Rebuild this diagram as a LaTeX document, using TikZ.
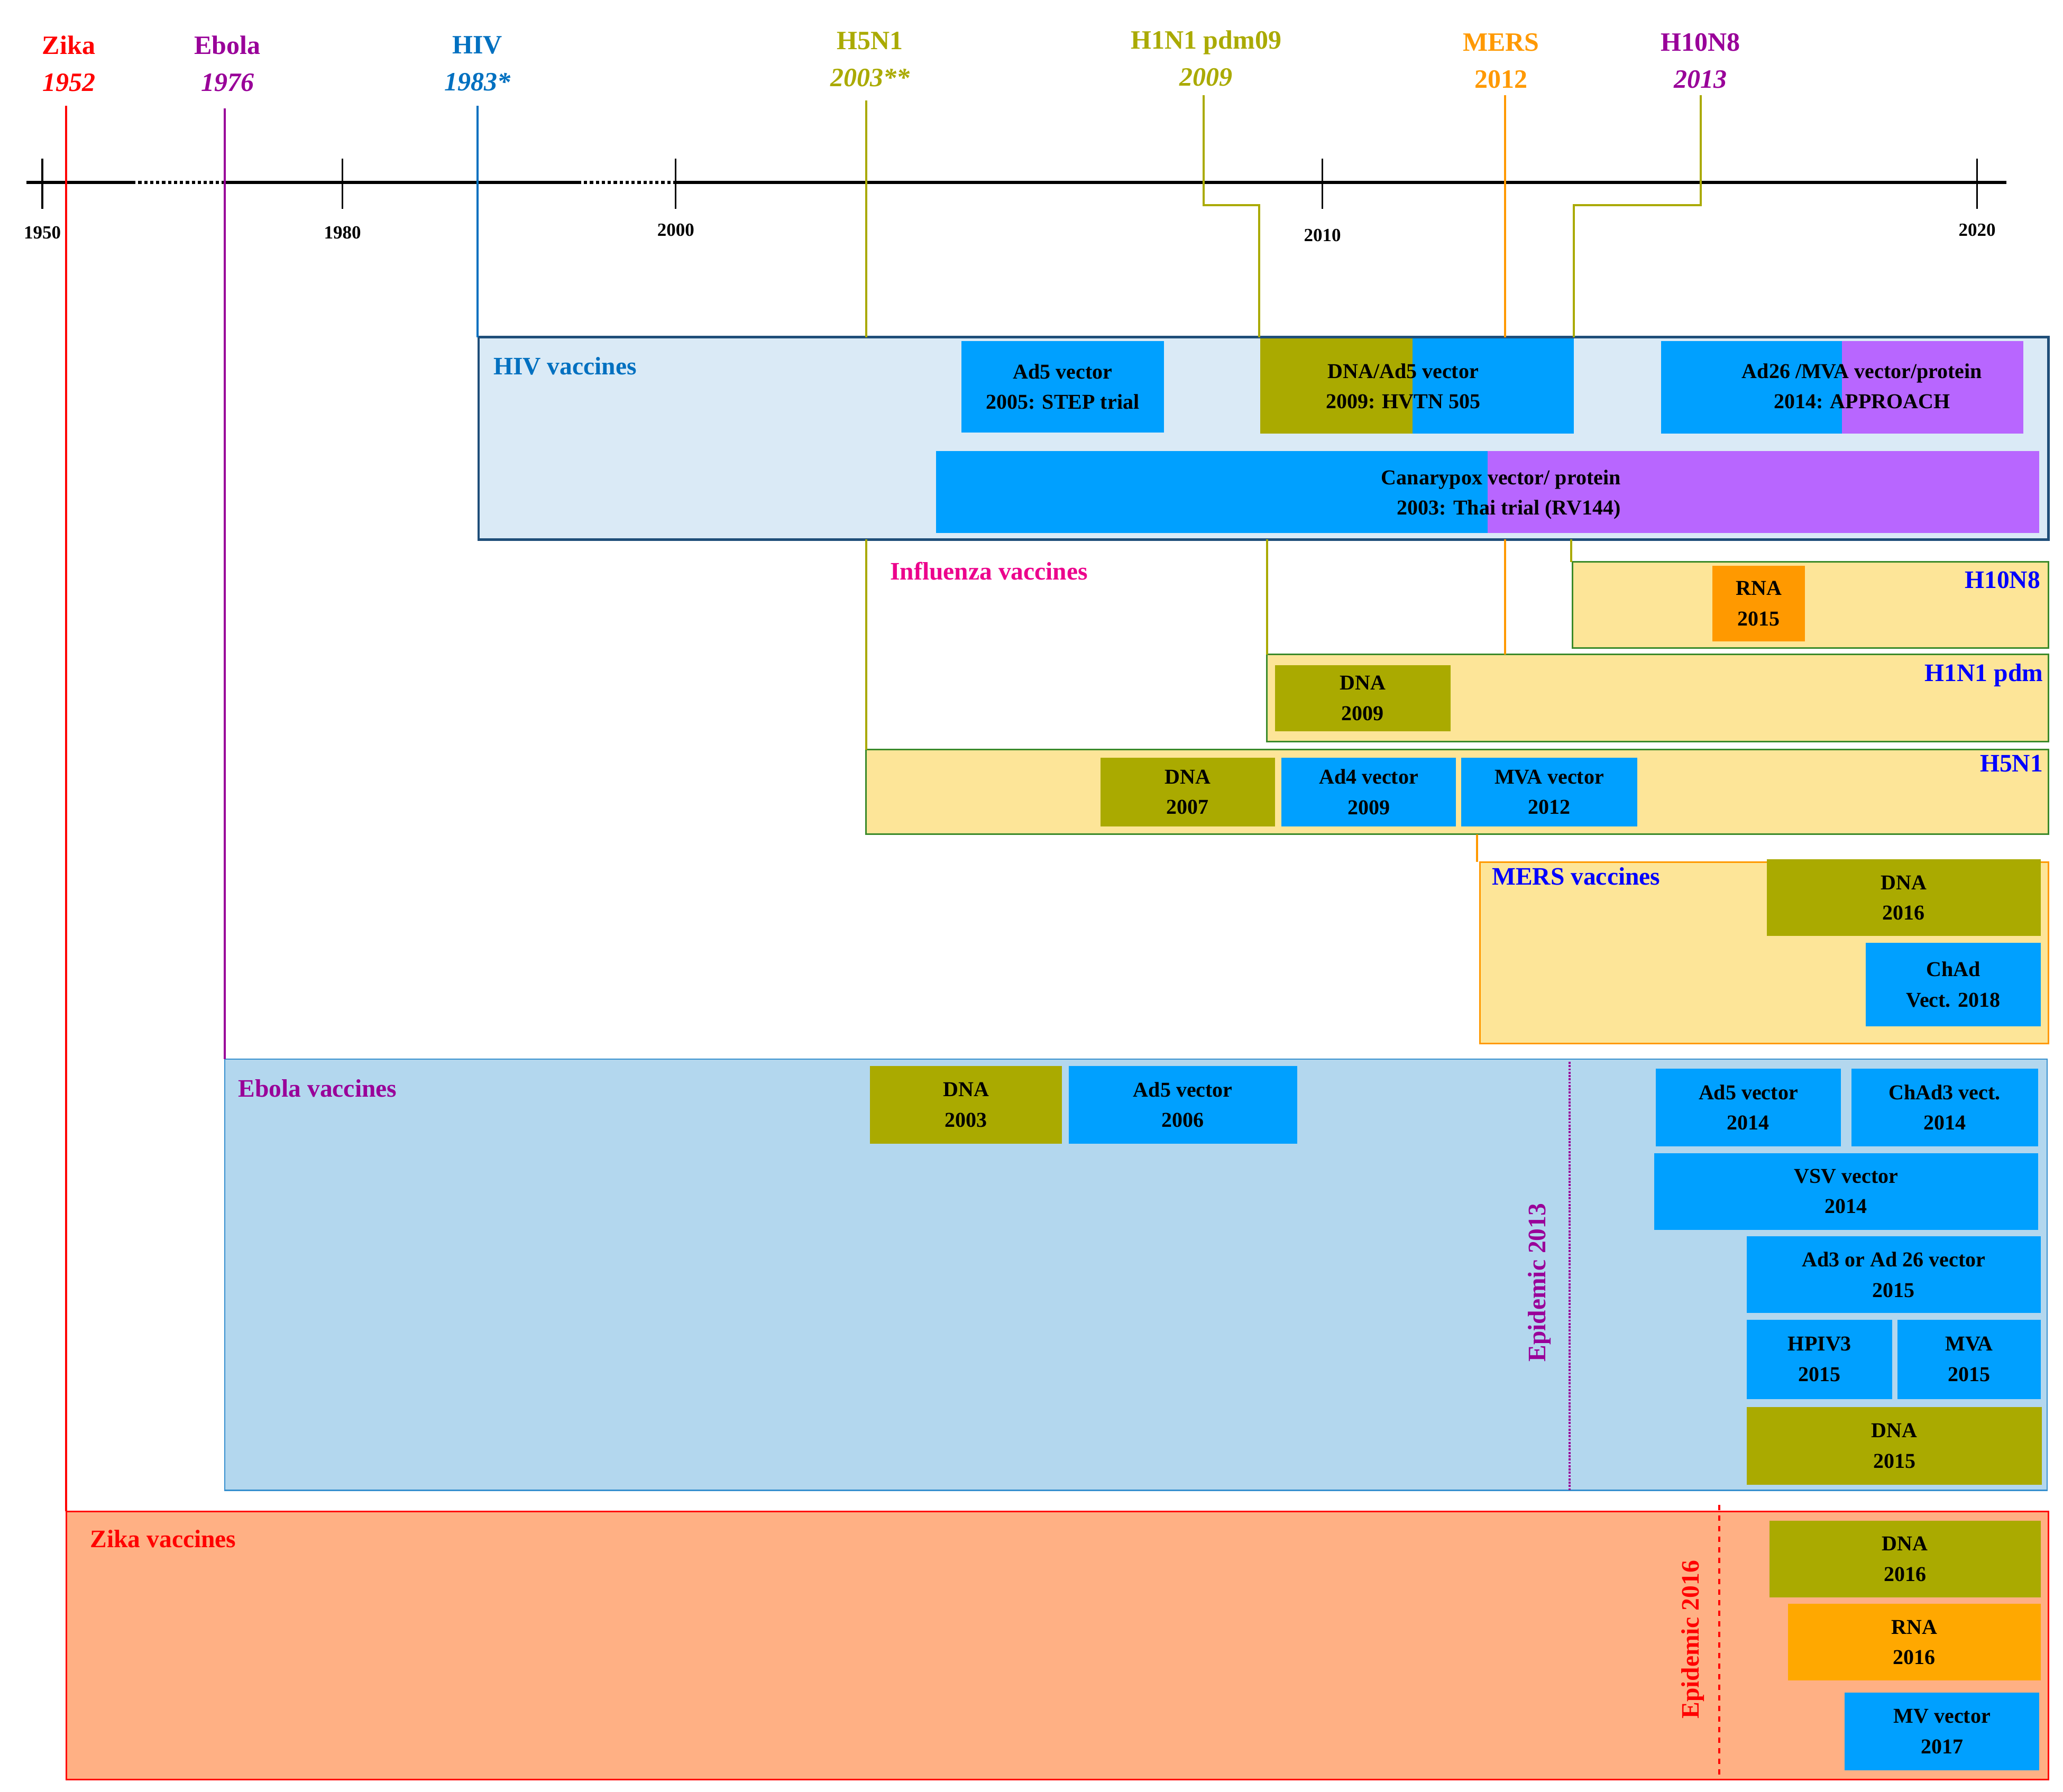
\documentclass[tikz,border=0pt]{standalone}
\usepackage{fontspec}
\setmainfont{Liberation Serif}
\begin{document}
\definecolor{olv}{HTML}{AAAA00}
\definecolor{blu}{HTML}{00A0FF}
\definecolor{pur}{HTML}{B866FF}
\definecolor{org}{HTML}{FF9900}
\definecolor{ylw}{HTML}{FDE598}
\definecolor{ebg}{HTML}{B3D7EE}
\definecolor{zbg}{HTML}{FFB084}
\definecolor{hbg}{HTML}{DAEAF6}
\definecolor{hivc}{HTML}{0070C0}
\definecolor{ebc}{HTML}{990099}
\definecolor{grn}{HTML}{3A8A2A}
\definecolor{dkb}{HTML}{1F4E79}
\newcommand{\bx}[7]{%
 \pgfmathsetmacro{\bw}{#4-#2}\pgfmathsetmacro{\bh}{#5-#3}%
 \pgfmathsetmacro{\cx}{(#2+#4)/2}\pgfmathsetmacro{\cy}{(#3+#5)/2}%
 \node[vb,fill=#6,minimum width=\bw pt,minimum height=\bh pt] (#1) at (\cx,\cy) {#7};}
\begin{tikzpicture}[x=1pt,y=-1pt,
 vb/.style={inner sep=0pt,outer sep=0pt,align=center,font=\bfseries\fontsize{16}{23}\selectfont},
 lbl/.style={font=\bfseries\fontsize{20}{28}\selectfont,align=center,inner sep=1pt},
 ttl/.style={font=\bfseries\fontsize{19}{24}\selectfont,anchor=north west,inner sep=0pt},
 yr/.style={font=\bfseries\fontsize{14}{16}\selectfont,inner sep=0pt},
 conn/.style={line width=1.6pt}]
\useasboundingbox (0,0) rectangle (1560,1355);
% big boxes
\draw[fill=zbg,draw=red,line width=1.2pt] (50,1143) rectangle (1549,1346);
\draw[fill=ebg,draw=hivc!70!ebg,line width=1pt] (170,801) rectangle (1548,1127);
\draw[fill=ylw,draw=org,line width=1.2pt] (1119,652) rectangle (1549,789);
\draw[fill=ylw,draw=grn,line width=1.2pt] (655,567) rectangle (1549,631);
\draw[fill=ylw,draw=grn,line width=1.2pt] (958,495) rectangle (1549,561);
\draw[fill=ylw,draw=grn,line width=1.2pt] (1189,425) rectangle (1549,490);
\draw[fill=hbg,draw=dkb,line width=1.8pt] (362,255) rectangle (1549,408);
% timeline
\draw[line width=2.5pt] (20,138) -- (100,138);
\draw[line width=2.5pt,dotted] (100,138) -- (170,138);
\draw[line width=2.5pt] (170,138) -- (437,138);
\draw[line width=2.5pt,dotted] (437,138) -- (510,138);
\draw[line width=2.5pt] (510,138) -- (1517,138);
\foreach \x/\t/\ty in {32/1950/176,259/1980/176,511/2000/174,1000/2010/178,1495/2020/174}{
 \draw[line width=1.3pt] (\x,120) -- (\x,158);
 \node[yr] (y\t) at (\x,\ty) {\t};}
% disease labels
\node[lbl,text=red] (zika) at (52,48) {Zika\\\textit{1952}};
\node[lbl,text=ebc] (ebola) at (172,48) {Ebola\\\textit{1976}};
\node[lbl,text=hivc] (hiv) at (361,48) {HIV\\\textit{1983*}};
\node[lbl,text=olv] (h5) at (658,45) {H5N1\\\textit{2003**}};
\node[lbl,text=olv] (h1) at (912,44) {H1N1 pdm09\\\textit{2009}};
\node[lbl,text=org] (mers) at (1135,46) {MERS\\2012};
\node[lbl,text=ebc] (h10) at (1286,46) {H10N8\\\textit{2013}};
% vertical connectors
\draw[conn,red] (50,80) -- (50,1143);
\draw[conn,ebc] (170,82) -- (170,801);
\draw[conn,hivc] (361,80) -- (361,255);
\draw[conn,olv] (655,76) -- (655,255) (655,408) -- (655,567);
\draw[conn,olv] (910,72) -- (910,155) -- (952,155) -- (952,255) (958,408) -- (958,495);
\draw[conn,org] (1138,72) -- (1138,255) (1138,408) -- (1138,495) (1117,631) -- (1117,652);
\draw[conn,olv] (1286,72) -- (1286,155) -- (1190,155) -- (1190,255) (1188,408) -- (1188,425);
% HIV
\node[ttl,text=hivc] (hivt) at (373,270) {HIV vaccines};
\bx{ad5}{727}{258}{880}{327}{blu}{Ad5 vector\\2005: STEP trial}
\fill[olv] (953,256) rectangle (1068,328); \fill[blu] (1068,256) rectangle (1190,328);
\node[vb] (hvtn) at (1061,292) {DNA/Ad5 vector\\2009: HVTN 505};
\fill[blu] (1256,258) rectangle (1393,328); \fill[pur] (1393,258) rectangle (1530,328);
\node[vb] (appr) at (1408,292) {Ad26 /MVA vector/protein\\2014: APPROACH};
\fill[blu] (708,341) rectangle (1125,403); \fill[pur] (1125,341) rectangle (1542,403);
\node[vb,align=right] (rv) at (1135,374) {Canarypox vector/ protein\hspace{52pt}\\2003: Thai trial (RV144)};
% Influenza
\node[ttl,text=magenta] (flu) at (673,425) {Influenza vaccines};
\bx{rna15}{1295}{428}{1365}{485}{org}{RNA\\2015}
\node[ttl,text=blue,anchor=north east] (h10l) at (1543,432) {H10N8};
\bx{dna09}{964}{503}{1097}{553}{olv}{DNA\\2009}
\node[ttl,text=blue,anchor=north east] (h1l) at (1545,502) {H1N1 pdm};
\bx{dna07}{832}{573}{964}{625}{olv}{DNA\\2007}
\bx{ad4}{969}{573}{1101}{625}{blu}{Ad4 vector\\2009}
\bx{mva12}{1105}{573}{1238}{625}{blu}{MVA vector\\2012}
\node[ttl,text=blue,anchor=north east] (h5l) at (1545,571) {H5N1};
% MERS
\node[ttl,text=blue] (merst) at (1128,656) {MERS vaccines};
\bx{mdna}{1336}{650}{1543}{708}{olv}{DNA\\2016}
\bx{chad}{1411}{713}{1543}{776}{blu}{ChAd\\Vect. 2018}
% Ebola
\node[ttl,text=ebc] (ebt) at (180,816) {Ebola vaccines};
\bx{edna03}{658}{806}{803}{865}{olv}{DNA\\2003}
\bx{ead506}{808}{806}{981}{865}{blu}{Ad5 vector\\2006}
\draw[ebc,line width=1.5pt,densely dotted] (1187,803) -- (1187,1127);
\node[vb,text=ebc,rotate=90,font=\bfseries\fontsize{19}{24}\selectfont] (ep13) at (1164,970) {Epidemic 2013};
\bx{ead514}{1252}{808}{1392}{867}{blu}{Ad5 vector\\2014}
\bx{chad3}{1400}{808}{1541}{867}{blu}{ChAd3 vect.\\2014}
\bx{vsv}{1251}{872}{1541}{930}{blu}{VSV vector\\2014}
\bx{ad3}{1321}{935}{1543}{993}{blu}{Ad3 or Ad 26 vector\\2015}
\bx{hpiv}{1321}{998}{1431}{1058}{blu}{HPIV3\\2015}
\bx{emva}{1435}{998}{1543}{1058}{blu}{MVA\\2015}
\bx{edna15}{1321}{1064}{1544}{1123}{olv}{DNA\\2015}
% Zika
\node[ttl,text=red] (zt) at (68,1157) {Zika vaccines};
\draw[red,line width=1.5pt,dashed,dash pattern=on 4pt off 4pt] (1300,1138) -- (1300,1346);
\node[vb,text=red,rotate=90,font=\bfseries\fontsize{19}{24}\selectfont] (ep16) at (1280,1240) {Epidemic 2016};
\bx{zdna}{1338}{1150}{1543}{1208}{olv}{DNA\\2016}
\bx{zrna}{1352}{1213}{1543}{1271}{org!85!yellow}{RNA\\2016}
\bx{zmv}{1395}{1280}{1542}{1339}{blu}{MV vector\\2017}
\end{tikzpicture}
\end{document}
